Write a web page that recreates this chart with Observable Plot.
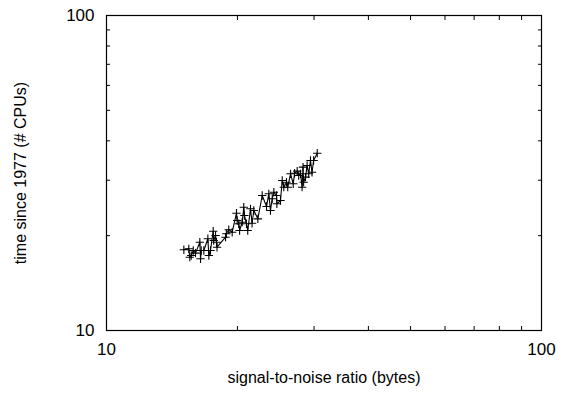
<!DOCTYPE html>
<html>
<head>
<meta charset="utf-8">
<script src="https://cdn.jsdelivr.net/npm/d3@7"></script>
<script src="https://cdn.jsdelivr.net/npm/@observablehq/plot@0.6"></script>
<style>
  html, body { margin: 0; padding: 0; background: #fff; }
</style>
</head>
<body>
<div id="chart"></div>
<script>
const snr = [15.06, 15.46, 15.54, 15.66, 15.83, 16.02, 16.39, 16.45, 16.51, 16.74,
  17.10, 17.19, 17.34, 17.59, 17.64, 17.81, 17.90, 17.95, 18.78, 18.86,
  19.10, 19.45, 19.90, 19.97, 20.14, 20.23, 20.51, 20.68, 20.75, 20.98,
  21.12, 21.43, 21.61, 21.81, 22.28, 22.80, 23.33, 23.61, 23.82, 24.04,
  24.25, 24.60, 24.64, 25.12, 25.35, 25.56, 25.93, 26.10, 26.49, 26.87,
  27.06, 27.44, 27.66, 27.93, 28.16, 28.30, 28.39, 28.68, 28.92, 29.16,
  29.44, 29.68, 29.93, 30.51];
const timeSince = [18.04, 18.17, 17.09, 17.30, 17.95, 17.60, 19.07, 16.89, 17.95, 17.95,
  19.55, 17.30, 17.95, 20.66, 19.31, 20.03, 19.07, 18.38, 19.78, 20.28,
  20.88, 20.51, 23.57, 22.35, 21.82, 20.77, 22.07, 24.63, 23.18, 21.82,
  20.77, 24.34, 21.90, 24.04, 22.62, 26.83, 24.76, 27.16, 24.04, 26.19,
  27.48, 26.83, 25.25, 25.87, 29.94, 28.51, 29.57, 28.51, 31.44, 29.22,
  31.56, 32.05, 31.05, 31.44, 28.51, 33.00, 29.57, 30.68, 33.40, 31.44,
  34.65, 31.79, 34.65, 36.55];
const majorTicks = [10, 100];
const minorTicks = [20, 30, 40, 50, 60, 70, 80, 90];
const xTitle = "signal-to-noise ratio (bytes)";
const yTitle = "time since 1977 (# CPUs)";

const data = snr.map((x, i) => ({x, y: timeSince[i]}));
const font = "Liberation Sans, Arial, sans-serif";

const chart = Plot.plot({
  width: 568,
  height: 397,
  marginLeft: 106,
  marginRight: 27,
  marginTop: 15,
  marginBottom: 67,
  style: {fontFamily: font, fontSize: "16px", color: "#000", background: "#fff"},
  x: {type: "log", domain: [10, 100], axis: null},
  y: {type: "log", domain: [10, 100], axis: null},
  marks: [
    Plot.frame({stroke: "#000", strokeWidth: 1.2}),
    Plot.axisX(minorTicks, {anchor: "bottom", tickSize: -4, tickFormat: () => "", label: null}),
    Plot.axisX(minorTicks, {anchor: "top", tickSize: -4, tickFormat: () => "", label: null}),
    Plot.axisY(minorTicks, {anchor: "left", tickSize: -4, tickFormat: () => "", label: null}),
    Plot.axisY(minorTicks, {anchor: "right", tickSize: -4, tickFormat: () => "", label: null}),
    Plot.axisX(majorTicks, {anchor: "bottom", tickSize: 0, tickPadding: 12, tickFormat: d => String(d), label: null, fontSize: 17}),
    Plot.axisY(majorTicks, {anchor: "left", tickSize: 0, tickPadding: 12, tickFormat: d => String(d), label: null, fontSize: 17}),
    Plot.text([xTitle], {frameAnchor: "bottom", dy: 52, fontSize: 16, fill: "#000"}),
    Plot.text([yTitle], {frameAnchor: "left", dx: -86, rotate: -90, textAnchor: "middle", fontSize: 16, fill: "#000"}),
    Plot.line(data, {x: "x", y: "y", stroke: "#000", strokeWidth: 1.1}),
    Plot.dot(data, {x: "x", y: "y", symbol: "plus", r: 2.8, stroke: "#000", strokeWidth: 1.1})
  ]
});
document.getElementById("chart").appendChild(chart);
</script>
</body>
</html>
